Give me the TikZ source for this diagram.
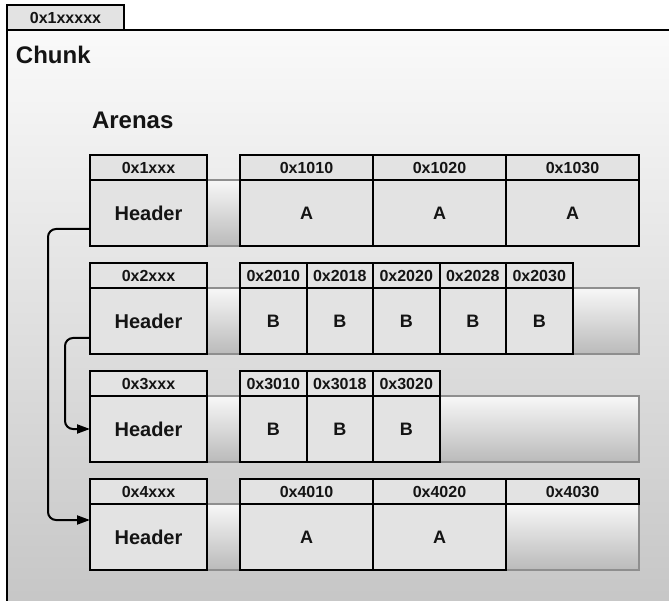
\documentclass[tikz,border=0pt]{standalone}
\usepackage{fontspec}
\setmainfont{Liberation Sans}
\usetikzlibrary{arrows.meta,calc}

\definecolor{cellgray}{HTML}{E3E3E3}
\definecolor{bandline}{HTML}{8E8E8E}

\begin{document}
\begin{tikzpicture}[x=1pt, y=-1pt,
    every node/.style={inner sep=0pt, outer sep=0pt, text=black!92},
    addr/.style={draw, line width=2pt, fill=cellgray, anchor=north west,
        minimum height=25pt, text height=11.6pt, text depth=0pt,
        font=\fontsize{16}{18}\selectfont\bfseries},
    slot/.style={draw, line width=2pt, fill=cellgray, anchor=north west,
        minimum height=66pt, font=\fontsize{18}{20}\selectfont\bfseries},
    header/.style={slot, minimum width=117pt, font=\fontsize{20}{24}\selectfont\bfseries},
    band/.style={draw=bandline, line width=1.4pt, top color=black!3, bottom color=black!27,
        anchor=north west, minimum width=432pt, minimum height=66pt},
    title/.style={anchor=west, font=\fontsize{24}{28}\selectfont\bfseries},
    link/.style={line width=2pt, rounded corners=8pt, -{Triangle[length=13pt,width=9pt]}}
]
    \useasboundingbox (0,0) rectangle (669,601);
    \clip (0,0) rectangle (669,601);

    % the chunk and its address tab
    \draw[line width=2pt, top color=black!2, bottom color=black!23] (7,30) rectangle (690,625);
    \node[addr, minimum width=117pt] (tab) at (7,5) {0x1xxxxx};
    \node[title] (chunk) at (16,55) {Chunk};
    \node[title] (arenas) at (92,120) {Arenas};

    % arena 1: three A slots
    \node[band] (band1) at (207,180) {};
    \node[addr, minimum width=117pt] (h1addr) at (90,155) {0x1xxx};
    \node[header] (h1) at (90,180) {Header};
    \node[addr, minimum width=133pt] (a1addr) at (240,155) {0x1010};
    \node[addr, minimum width=133pt] (a2addr) at (373,155) {0x1020};
    \node[addr, minimum width=133pt] (a3addr) at (506,155) {0x1030};
    \node[slot, minimum width=133pt] (a1) at (240,180) {A};
    \node[slot, minimum width=133pt] (a2) at (373,180) {A};
    \node[slot, minimum width=133pt] (a3) at (506,180) {A};

    % arena 2: five B slots
    \node[band] (band2) at (207,288) {};
    \node[addr, minimum width=117pt] (h2addr) at (90,263) {0x2xxx};
    \node[header] (h2) at (90,288) {Header};
    \node[addr, minimum width=66.5pt] (b1addr) at (240,263) {0x2010};
    \node[addr, minimum width=66.5pt] (b2addr) at (306.5,263) {0x2018};
    \node[addr, minimum width=66.5pt] (b3addr) at (373,263) {0x2020};
    \node[addr, minimum width=66.5pt] (b4addr) at (439.5,263) {0x2028};
    \node[addr, minimum width=66.5pt] (b5addr) at (506,263) {0x2030};
    \node[slot, minimum width=66.5pt] (b1) at (240,288) {B};
    \node[slot, minimum width=66.5pt] (b2) at (306.5,288) {B};
    \node[slot, minimum width=66.5pt] (b3) at (373,288) {B};
    \node[slot, minimum width=66.5pt] (b4) at (439.5,288) {B};
    \node[slot, minimum width=66.5pt] (b5) at (506,288) {B};

    % arena 3: three B slots
    \node[band] (band3) at (207,396) {};
    \node[addr, minimum width=117pt] (h3addr) at (90,371) {0x3xxx};
    \node[header] (h3) at (90,396) {Header};
    \node[addr, minimum width=66.5pt] (c1addr) at (240,371) {0x3010};
    \node[addr, minimum width=66.5pt] (c2addr) at (306.5,371) {0x3018};
    \node[addr, minimum width=66.5pt] (c3addr) at (373,371) {0x3020};
    \node[slot, minimum width=66.5pt] (c1) at (240,396) {B};
    \node[slot, minimum width=66.5pt] (c2) at (306.5,396) {B};
    \node[slot, minimum width=66.5pt] (c3) at (373,396) {B};

    % arena 4: two A slots, last one free
    \node[band] (band4) at (207,504) {};
    \node[addr, minimum width=117pt] (h4addr) at (90,479) {0x4xxx};
    \node[header] (h4) at (90,504) {Header};
    \node[addr, minimum width=133pt] (d1addr) at (240,479) {0x4010};
    \node[addr, minimum width=133pt] (d2addr) at (373,479) {0x4020};
    \node[addr, minimum width=133pt] (d3addr) at (506,479) {0x4030};
    \node[slot, minimum width=133pt] (d1) at (240,504) {A};
    \node[slot, minimum width=133pt] (d2) at (373,504) {A};

    % header links
    \draw[link] ($(h1.west)+(0,16)$) -| ($(h4.west)+(-42,-17)$) -- ($(h4.west)+(0,-17)$);
    \draw[link] ($(h2.west)+(0,17)$) -| ($(h3.west)+(-25,0)$) -- (h3.west);
\end{tikzpicture}
\end{document}
